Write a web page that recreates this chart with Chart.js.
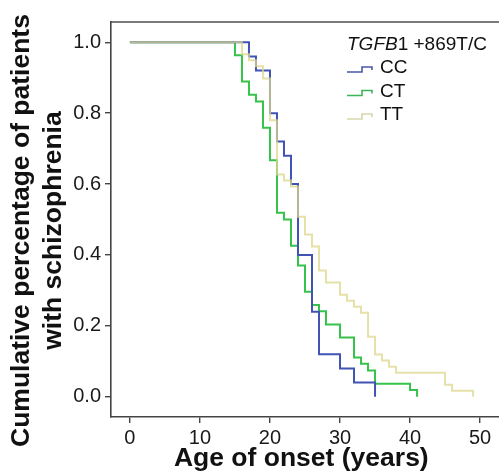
<!DOCTYPE html>
<html lang="en">

<head>
    <meta charset="UTF-8">
    <title>age of onset</title>
    <script src="https://cdn.jsdelivr.net/npm/chart.js"></script>
    <style>
        body { margin: 0; background: #fff; }
        canvas { display: block; }
    </style>
</head>

<body>
    <canvas id="kmChart" width="499" height="474"></canvas>
    <script>
        // age where the curve drops, and the value after the drop
        const ccAge = [0, 17, 18, 20, 21, 22, 23, 24, 26, 27, 30, 32, 35];
        const ccSurv = [1, 0.96, 0.92, 0.80, 0.72, 0.68, 0.60, 0.40, 0.24, 0.12, 0.08, 0.04, 0];

        const ctAge = [0, 15, 16, 17, 18, 19, 20, 21, 22, 23, 24, 25, 26, 27, 28, 30, 32, 33, 34, 35, 40, 41];
        const ctSurv = [1, 0.963, 0.889, 0.852, 0.833, 0.759, 0.667, 0.519, 0.5, 0.426, 0.37, 0.296, 0.259,
            0.241, 0.204, 0.167, 0.111, 0.093, 0.074, 0.037, 0.019, 0];

        const ttAge = [0, 16, 17, 18, 19, 20, 21, 22, 23, 24, 25, 26, 27, 28, 30, 31, 32, 33, 34, 35, 36, 37, 38, 45, 46, 49];
        const ttSurv = [1, 0.966, 0.949, 0.932, 0.898, 0.78, 0.627, 0.61, 0.593, 0.508, 0.458, 0.424, 0.356,
            0.322, 0.288, 0.271, 0.254, 0.237, 0.169, 0.119, 0.102, 0.085, 0.068, 0.034, 0.017, 0];

        const groups = ['CC', 'CT', 'TT'];
        const xTicks = [0, 10, 20, 30, 40, 50];
        const yTicks = [0, 0.2, 0.4, 0.6, 0.8, 1.0];

        const colors = {
            CC: '#4154b3',
            CT: '#36c24b',
            TT: 'rgba(220,215,140,0.75)'
        };
        const FONT = '"Liberation Sans", Arial, Helvetica, sans-serif';

        function toPoints(ages, vals) {
            return ages.map((a, i) => ({ x: a, y: vals[i] }));
        }

        // legend drawn by hand: italic gene name + step icons
        const kmLegend = {
            id: 'kmLegend',
            afterDraw(chart) {
                const ctx = chart.ctx;
                ctx.save();
                ctx.textBaseline = 'middle';
                ctx.fillStyle = '#111';
                let x = 347;
                ctx.font = 'italic 19px ' + FONT;
                ctx.fillText('TGFB', x, 45);
                x += ctx.measureText('TGFB').width;
                ctx.font = '19px ' + FONT;
                ctx.fillText('1 +869T/C', x, 45);

                const iconCol = { CC: '#4a5aa8', CT: '#3cb55a', TT: '#d8d6aa' };
                groups.forEach((g, i) => {
                    const cy = 68 + i * 23.5;
                    ctx.strokeStyle = iconCol[g];
                    ctx.lineWidth = 1.6;
                    ctx.beginPath();
                    ctx.moveTo(347, cy + 4);
                    ctx.lineTo(362, cy + 4);
                    ctx.lineTo(362, cy - 1);
                    ctx.lineTo(372, cy - 1);
                    ctx.lineTo(372, cy + 2);
                    ctx.stroke();
                    ctx.fillStyle = '#111';
                    ctx.fillText(g, 380, cy);
                });
                ctx.restore();
            }
        };

        const ctx = document.getElementById('kmChart').getContext('2d');
        new Chart(ctx, {
            type: 'line',
            data: {
                datasets: [
                    { label: 'CC', data: toPoints(ccAge, ccSurv), borderColor: colors.CC, order: 1 },
                    { label: 'CT', data: toPoints(ctAge, ctSurv), borderColor: colors.CT, order: 2 },
                    { label: 'TT', data: toPoints(ttAge, ttSurv), borderColor: colors.TT, order: 0 }
                ]
            },
            options: {
                responsive: false,
                animation: false,
                layout: { padding: 0 },
                elements: {
                    line: { borderWidth: 2, stepped: true, tension: 0, fill: false },
                    point: { radius: 0 }
                },
                plugins: {
                    legend: { display: false },
                    tooltip: { enabled: false }
                },
                scales: {
                    x: {
                        type: 'linear',
                        min: -2.7,
                        max: 52.7,
                        afterBuildTicks: (s) => { s.ticks = xTicks.map(v => ({ value: v })); },
                        afterFit: (s) => { s.height = 57; },
                        border: { color: '#444', width: 1.6 },
                        grid: { drawOnChartArea: false, drawTicks: true, tickLength: 6, color: '#444', lineWidth: 1.4 },
                        ticks: { color: '#1a1a1a', padding: 3, font: { family: FONT, size: 20 }, maxRotation: 0 },
                        title: {
                            display: true,
                            // trailing space nudges the centred title a little left, as in the original
                            text: 'Age of onset (years)\u00a0',
                            color: '#111',
                            font: { family: FONT, size: 26.5, weight: 'bold', lineHeight: 1.15 },
                            padding: { top: 0, bottom: 0 }
                        }
                    },
                    x2: {
                        type: 'linear',
                        position: 'top',
                        min: -2.7,
                        max: 52.7,
                        afterFit: (s) => { s.height = 22; },
                        border: { color: '#7a7a7a', width: 2 },
                        grid: { display: false },
                        ticks: { display: false }
                    },
                    y: {
                        min: -0.057,
                        max: 1.057,
                        afterBuildTicks: (s) => { s.ticks = yTicks.map(v => ({ value: v })); },
                        afterFit: (s) => { s.width = 111; },
                        border: { color: '#444', width: 1.6 },
                        grid: { drawOnChartArea: false, drawTicks: true, tickLength: 6, color: '#444', lineWidth: 1.4 },
                        ticks: {
                            color: '#1a1a1a',
                            padding: 4,
                            font: { family: FONT, size: 20 },
                            callback: (v) => v.toFixed(1)
                        },
                        title: {
                            display: true,
                            // trailing spaces push the rotated lines a bit lower
                            text: ['Cumulative percentage of patients\u00a0\u00a0\u00a0',
                                'with schizophrenia\u00a0\u00a0\u00a0'],
                            color: '#111',
                            font: { family: FONT, size: 26.5, weight: 'bold', lineHeight: 1.21 },
                            padding: { top: 6, bottom: 0 }
                        }
                    }
                }
            },
            plugins: [kmLegend]
        });
    </script>
</body>

</html>
